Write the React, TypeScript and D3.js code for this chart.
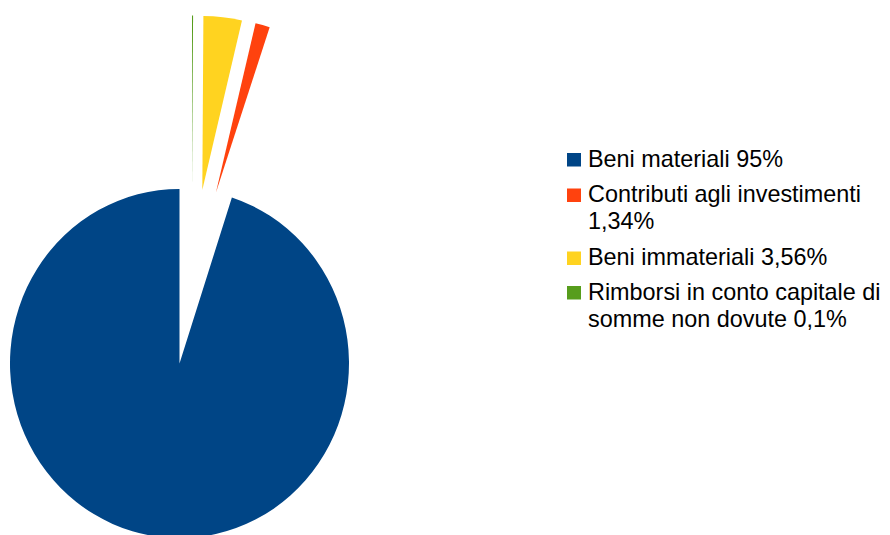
import React, { useEffect, useRef } from "react";
import * as d3 from "d3";

const categories = [
  "Beni materiali",
  "Contributi agli investimenti",
  "Beni immateriali",
  "Rimborsi in conto capitale di somme non dovute",
];
const values = [95, 1.34, 3.56, 0.1];
const legendLines = [
  ["Beni materiali 95%"],
  ["Contributi agli investimenti", "1,34%"],
  ["Beni immateriali 3,56%"],
  ["Rimborsi in conto capitale di", "somme non dovute 0,1%"],
];
const colors = ["#004586", "#ff420e", "#ffd320", "#579d1c"];

const Chart = () => {
  const ref = useRef<SVGSVGElement>(null);

  useEffect(() => {
    const svg = d3.select(ref.current);
    svg.selectAll("*").remove();

    const width = 890;
    const height = 535;
    svg.attr("width", width).attr("height", height);

    // main slice centre / radius (slightly taller than wide), detached slices sit higher up
    const center = { x: 179.5, y: 363.5 };
    const radius = 169.5;
    const yStretch = 1.03;
    const detached = { x: 191.7, y: 279.4, r: 174, explode: 90 };

    const data = categories.map((c, i) => ({ name: c, value: values[i], i }));

    // counter-clockwise from 12 o'clock
    const pie = d3
      .pie<any>()
      .sort(null)
      .value((d) => d.value)
      .startAngle(0)
      .endAngle(-2 * Math.PI);

    const arcs = pie(data);

    const g = svg.append("g");
    g.selectAll("path")
      .data(arcs)
      .join("path")
      .attr("fill", (d) => colors[d.data.i])
      .attr("d", (d) => {
        const r = d.data.i === 0 ? radius : detached.r;
        return d3.arc<any>().innerRadius(0).outerRadius(r)(d);
      })
      .attr("transform", (d) => {
        if (d.data.i === 0)
          return `translate(${center.x},${center.y}) scale(1,${yStretch})`;
        const mid = (d.startAngle + d.endAngle) / 2;
        const x = detached.x + detached.explode * Math.sin(mid);
        const y = detached.y - detached.explode * Math.cos(mid);
        return `translate(${x},${y})`;
      });

    // legend
    const baselines = [
      [166.5, null],
      [202, 228.5],
      [265, null],
      [299.5, 327],
    ];
    const legend = svg
      .append("g")
      .style("font-family", "'Liberation Sans', Arial, sans-serif")
      .style("font-size", "23.4px")
      .attr("fill", "#000");

    legendLines.forEach((lines, i) => {
      const b0 = baselines[i][0] as number;
      legend
        .append("rect")
        .attr("x", 567)
        .attr("y", b0 - 13.5)
        .attr("width", 14)
        .attr("height", 13.5)
        .attr("fill", colors[i]);
      lines.forEach((t, j) => {
        legend
          .append("text")
          .attr("x", 588)
          .attr("y", j === 0 ? b0 : (baselines[i][1] as number))
          .text(t);
      });
    });
  }, []);

  return (
    <svg
      ref={ref}
      style={{ position: "absolute", left: 0, top: 0, background: "#fff" }}
    ></svg>
  );
};

export default function App() {
  return <Chart />;
}
